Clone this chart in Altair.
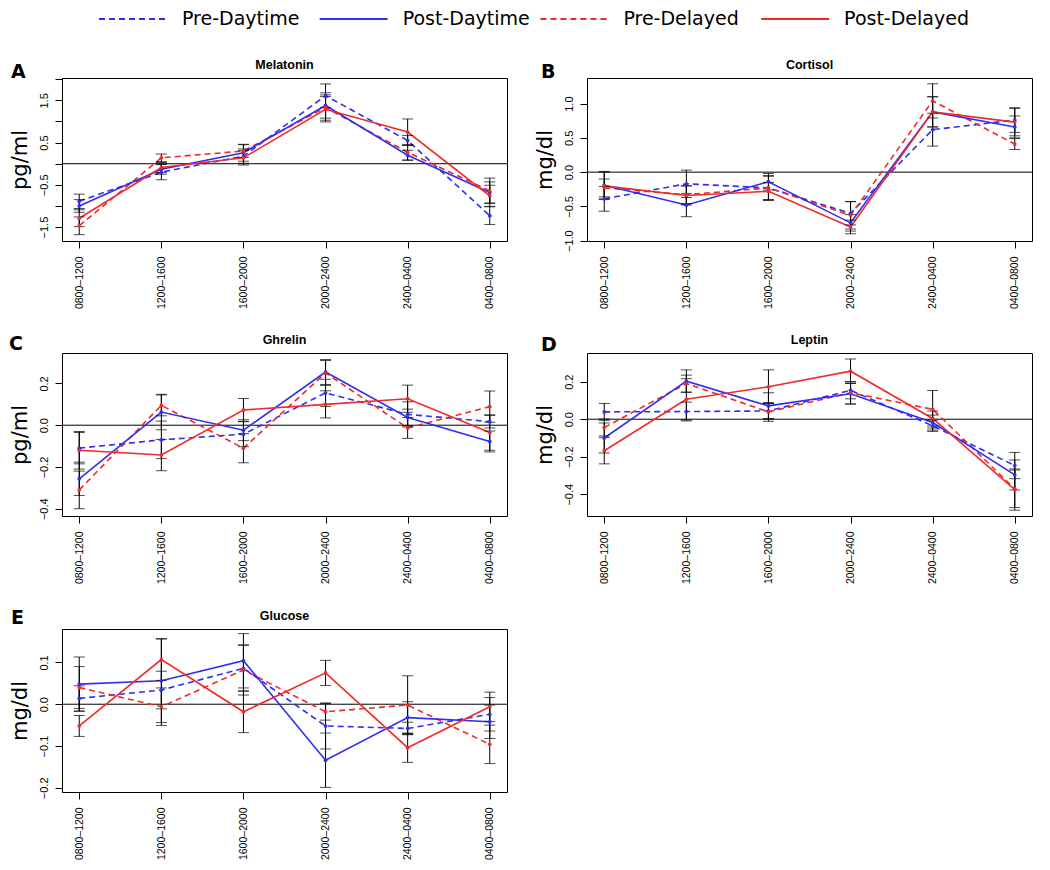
import altair as alt
import pandas as pd

# ---------------- data ----------------
slots = ["0800–1200", "1200–1600", "1600–2000", "2000–2400", "2400–0400", "0400–0800"]
series = ["Pre-Daytime", "Post-Daytime", "Pre-Delayed", "Post-Delayed"]
series_colors = ["#2F2FEF", "#2F2FEF", "#EF2A2A", "#EF2A2A"]
series_dashed = [True, False, True, False]

panel_names = ["Melatonin", "Cortisol", "Ghrelin", "Leptin", "Glucose"]
panel_letters = ["A", "B", "C", "D", "E"]
panel_units = ["pg/ml", "mg/dl", "pg/ml", "mg/dl", "mg/dl"]

# means (Pre-Daytime, Post-Daytime, Pre-Delayed, Post-Delayed)
melatonin_mean = [
    [-0.89, -0.20, 0.18, 1.61, 0.55, -1.23],
    [-1.00, -0.13, 0.26, 1.38, 0.20, -0.68],
    [-1.47, 0.14, 0.30, 1.33, 0.27, -0.64],
    [-1.29, -0.09, 0.14, 1.29, 0.75, -0.76],
]
melatonin_se = [
    [0.17, 0.18, 0.17, 0.28, 0.12, 0.21],
    [0.15, 0.12, 0.20, 0.30, 0.12, 0.25],
    [0.21, 0.09, 0.15, 0.30, 0.18, 0.30],
    [0.20, 0.12, 0.17, 0.30, 0.31, 0.25],
]
cortisol_mean = [
    [-0.39, -0.17, -0.23, -0.60, 0.62, 0.76],
    [-0.19, -0.48, -0.14, -0.74, 0.88, 0.66],
    [-0.23, -0.33, -0.23, -0.63, 1.04, 0.41],
    [-0.20, -0.34, -0.28, -0.80, 0.88, 0.73],
]
cortisol_se = [
    [0.18, 0.20, 0.17, 0.17, 0.24, 0.18],
    [0.20, 0.17, 0.12, 0.12, 0.22, 0.16],
    [0.13, 0.13, 0.18, 0.20, 0.25, 0.08],
    [0.20, 0.14, 0.13, 0.10, 0.22, 0.20],
]
ghrelin_mean = [
    [-0.110, -0.070, -0.043, 0.155, 0.052, 0.017],
    [-0.257, 0.063, -0.024, 0.255, 0.037, -0.078],
    [-0.310, 0.095, -0.110, 0.250, -0.013, 0.089],
    [-0.120, -0.143, 0.073, 0.100, 0.127, -0.035],
]
ghrelin_se = [
    [0.075, 0.090, 0.060, 0.065, 0.060, 0.030],
    [0.080, 0.085, 0.050, 0.060, 0.040, 0.050],
    [0.090, 0.050, 0.070, 0.060, 0.050, 0.075],
    [0.090, 0.075, 0.055, 0.065, 0.065, 0.085],
]
leptin_mean = [
    [0.039, 0.041, 0.044, 0.154, -0.035, -0.247],
    [-0.100, 0.203, 0.071, 0.136, -0.018, -0.297],
    [-0.044, 0.190, 0.039, 0.141, 0.053, -0.371],
    [-0.168, 0.106, 0.173, 0.256, 0.004, -0.375],
]
leptin_se = [
    [0.045, 0.050, 0.040, 0.045, 0.030, 0.070],
    [0.080, 0.060, 0.070, 0.055, 0.040, 0.080],
    [0.045, 0.045, 0.050, 0.060, 0.100, 0.100],
    [0.070, 0.110, 0.090, 0.065, 0.040, 0.110],
]
glucose_mean = [
    [0.014, 0.034, 0.086, -0.052, -0.058, -0.024],
    [0.048, 0.056, 0.104, -0.134, -0.032, -0.042],
    [0.040, -0.006, 0.082, -0.018, -0.002, -0.096],
    [-0.052, 0.107, -0.018, 0.075, -0.104, -0.006],
]
glucose_se = [
    [0.030, 0.045, 0.055, 0.055, 0.015, 0.040],
    [0.065, 0.100, 0.065, 0.065, 0.038, 0.040],
    [0.050, 0.045, 0.060, 0.020, 0.070, 0.046],
    [0.025, 0.050, 0.050, 0.030, 0.035, 0.035],
]

all_means = [melatonin_mean, cortisol_mean, ghrelin_mean, leptin_mean, glucose_mean]
all_se = [melatonin_se, cortisol_se, ghrelin_se, leptin_se, glucose_se]

y_domains = [[-1.83, 2.03], [-1.005, 1.374], [-0.435, 0.346], [-0.516, 0.353], [-0.21, 0.18]]
y_ticks = [
    [-1.5, -1.0, -0.5, 0.0, 0.5, 1.0, 1.5, 2.0],
    [-1.0, -0.5, 0.0, 0.5, 1.0],
    [-0.4, -0.2, 0.0, 0.2],
    [-0.4, -0.2, 0.0, 0.2],
    [-0.2, -0.1, 0.0, 0.1],
]
label_every_other = [True, False, False, False, False]

# ---------------- style ----------------
PW, PH = 445, 163
TICK_FONT = "Liberation Sans"
letter_offsets = [(-51, 0), (-46, 0), (-53, -3), (-46, -2), (-51, -5)]
DASH = [6, 4]


def panel(i):
    rows = []
    for s_idx, s in enumerate(series):
        for k, slot in enumerate(slots):
            m = all_means[i][s_idx][k]
            e = all_se[i][s_idx][k]
            rows.append({"slot": slot, "series": s, "mean": m, "lo": m - e, "hi": m + e,
                         "hex": series_colors[s_idx], "dashed": series_dashed[s_idx]})
    df = pd.DataFrame(rows)

    x_enc = alt.X(
        "slot:N", sort=slots, scale=alt.Scale(type="point", padding=0.21),
        axis=alt.Axis(title=None, labelAngle=-90, labelAlign="right", labelBaseline="middle",
                      labelPadding=8, tickSize=7, domain=False, grid=False,
                      labelFont=TICK_FONT, labelFontSize=10.5, labelColor="black",
                      tickColor="black", tickWidth=1),
    )
    label_expr = ("abs(round(datum.value*2)) % 2 == 1 ? datum.label : ''"
                  if label_every_other[i] else "datum.label")
    y_axis = alt.Axis(
        title=panel_units[i], values=y_ticks[i], format=".1f", labelExpr=label_expr,
        labelAngle=-90, labelAlign="center", labelBaseline="bottom", labelPadding=6,
        tickSize=7, domain=False, grid=False, labelFont=TICK_FONT, labelFontSize=11,
        labelColor="black", tickColor="black", tickWidth=1,
        titleFont="DejaVu Sans", titleFontSize=21, titleFontWeight="normal",
        titleColor="black", titlePadding=8,
    )
    y_scale = alt.Scale(domain=y_domains[i], nice=False, zero=False)

    def Y(field):
        return alt.Y(field, type="quantitative", scale=y_scale, axis=y_axis)

    base = alt.Chart(df)
    zero = alt.Chart(pd.DataFrame({"z": [0.0]})).mark_rule(color="black", strokeWidth=1).encode(y=Y("z"))
    lines_dashed = base.transform_filter("datum.dashed").mark_line(strokeWidth=1.6, strokeDash=DASH).encode(
        x=x_enc, y=Y("mean"), color=alt.Color("hex:N", scale=None), detail="series:N")
    lines_solid = base.transform_filter("!datum.dashed").mark_line(strokeWidth=1.6).encode(
        x=x_enc, y=Y("mean"), color=alt.Color("hex:N", scale=None), detail="series:N")
    pts = base.mark_point(filled=True, size=14, opacity=1, shape="circle").encode(
        x=x_enc, y=Y("mean"), color=alt.Color("hex:N", scale=None))
    bars = base.mark_rule(color="black", strokeWidth=1).encode(x=x_enc, y=Y("lo"), y2="hi:Q")
    cap_lo = base.mark_tick(color="black", size=11, thickness=1, orient="horizontal").encode(x=x_enc, y=Y("lo"))
    cap_hi = base.mark_tick(color="black", size=11, thickness=1, orient="horizontal").encode(x=x_enc, y=Y("hi"))
    lx, ly = letter_offsets[i]
    txt = pd.DataFrame({"letter": [panel_letters[i]], "name": [panel_names[i]]})
    letter = alt.Chart(txt).mark_text(
        font="DejaVu Sans", fontSize=19, fontWeight="bold", align="left", baseline="alphabetic",
        color="black",
    ).encode(text="letter:N", x=alt.value(lx), y=alt.value(ly))
    title = alt.Chart(txt).mark_text(
        font=TICK_FONT, fontSize=12.5, fontWeight="bold", align="center", baseline="alphabetic",
        color="black",
    ).encode(text="name:N", x=alt.value(PW / 2), y=alt.value(-9))

    return alt.layer(zero, lines_dashed, lines_solid, bars, cap_lo, cap_hi, pts, letter, title).properties(
        width=PW, height=PH,
    )


grid = alt.concat(
    *[panel(i) for i in range(5)], columns=2, spacing={"row": 23, "column": 25}
).resolve_scale(y="independent")

# ---------------- legend (custom, drawn from the series lists) ----------------
legend_df = pd.DataFrame({
    "name": series,
    "pos": list(range(len(series))),
    "hex": series_colors,
    "dashed": series_dashed,
})
LW = 960
lx_scale = alt.Scale(domain=[-0.1676, 4.182], nice=False, zero=False)
leg_base = alt.Chart(legend_df).transform_calculate(
    pos_end="datum.pos + 0.308", pos_text="datum.pos + 0.376"
)
leg_dashed = leg_base.transform_filter("datum.dashed").mark_rule(strokeWidth=2, strokeDash=DASH).encode(
    x=alt.X("pos:Q", scale=lx_scale, axis=None), x2="pos_end:Q",
    y=alt.value(10), color=alt.Color("hex:N", scale=None))
leg_solid = leg_base.transform_filter("!datum.dashed").mark_rule(strokeWidth=2).encode(
    x=alt.X("pos:Q", scale=lx_scale, axis=None), x2="pos_end:Q",
    y=alt.value(10), color=alt.Color("hex:N", scale=None))
leg_text = leg_base.mark_text(
    font="DejaVu Sans", fontSize=19, align="left", baseline="middle", color="black"
).encode(x=alt.X("pos_text:Q", scale=lx_scale, axis=None), y=alt.value(10), text="name:N")
legend_chart = alt.layer(leg_dashed, leg_solid, leg_text).properties(
    width=LW, height=20, view=alt.ViewBackground(stroke="transparent")
)

chart = alt.vconcat(legend_chart, grid, spacing=28).resolve_scale(
    x="independent", y="independent"
).configure_view(
    stroke="black", strokeWidth=1
).properties(padding={"left": 0, "top": 0, "right": 0, "bottom": 0}, background="white")

chart.save("out.html", embed_options={"renderer": "svg", "actions": False})
